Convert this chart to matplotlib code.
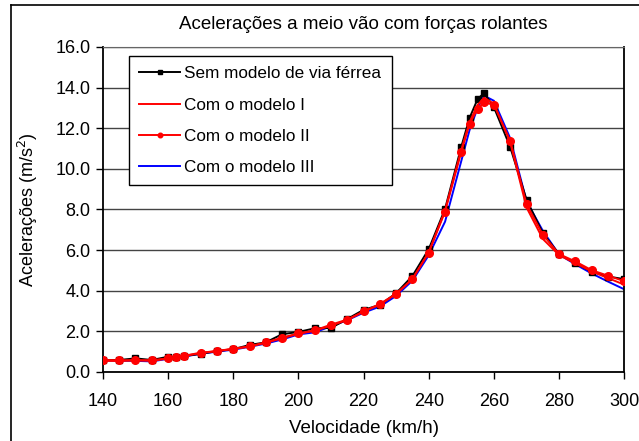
import matplotlib.pyplot as plt
from matplotlib.lines import Line2D

plt.rcParams['font.family'] = ['Liberation Sans', 'DejaVu Sans']

# velocidades (km/h)
v = [140, 145, 150, 155, 160, 162.5, 165, 170, 175, 180, 185, 190, 195, 200, 205,
     210, 215, 220, 225, 230, 235, 240, 245, 250, 252.5, 255, 257, 260, 265, 270,
     275, 280, 285, 290, 295, 300]

sem_modelo = [0.59, 0.59, 0.67, 0.59, 0.75, 0.72, 0.79, 0.89, 1.03, 1.12, 1.33, 1.46, 1.86, 1.97, 2.15,
              2.17, 2.61, 3.06, 3.30, 3.88, 4.73, 6.05, 8.03, 11.10, 12.50, 13.44, 13.73, 13.03, 11.07, 8.48,
              6.83, 5.80, 5.36, 4.94, 4.70, 4.57]

modelo_1 = [0.55, 0.54, 0.57, 0.55, 0.66, 0.72, 0.79, 0.93, 1.03, 1.13, 1.25, 1.44, 1.66, 1.88, 2.03,
            2.28, 2.56, 2.97, 3.32, 3.84, 4.58, 5.90, 7.95, 10.95, 12.30, 13.15, 13.50, 13.20, 11.30, 8.10,
            6.55, 5.75, 5.35, 4.95, 4.62, 4.30]

modelo_2 = [0.59, 0.58, 0.58, 0.58, 0.67, 0.72, 0.80, 0.95, 1.03, 1.15, 1.26, 1.46, 1.69, 1.90, 2.05,
            2.33, 2.58, 2.98, 3.35, 3.85, 4.58, 5.88, 7.90, 10.85, 12.20, 12.97, 13.27, 13.15, 11.38, 8.26,
            6.76, 5.80, 5.44, 5.01, 4.74, 4.47]

modelo_3 = [0.56, 0.55, 0.55, 0.52, 0.65, 0.70, 0.76, 0.90, 1.00, 1.10, 1.24, 1.40, 1.60, 1.85, 1.95,
            2.25, 2.55, 2.92, 3.22, 3.75, 4.50, 5.75, 7.40, 10.40, 11.90, 13.00, 13.60, 13.35, 11.50, 8.40,
            6.95, 5.78, 5.30, 4.85, 4.45, 4.07]

fig = plt.figure(figsize=(6.39, 4.41), dpi=100)
ax = fig.add_axes([0.161, 0.1565, 0.816, 0.737])

ax.plot(v, sem_modelo, color='black', lw=1.4, marker='s', ms=5, label='Sem modelo de via férrea', zorder=3)
ax.plot(v, modelo_1, color='red', lw=1.4, label='Com o modelo I', zorder=4)
ax.plot(v, modelo_2, color='red', lw=1.4, marker='o', ms=5.5, label='Com o modelo II', zorder=5)
ax.plot(v, modelo_3, color='blue', lw=1.4, label='Com o modelo III', zorder=2)

ax.set_xlim(140, 300)
ax.set_ylim(0, 16)
ax.set_xticks(range(140, 301, 20))
ax.set_yticks(range(0, 17, 2))
ax.set_yticklabels(['%.1f' % t for t in range(0, 17, 2)])
ax.tick_params(axis='both', labelsize=13, direction='out', length=5, width=1)
ax.tick_params(axis='x', pad=10)
ax.tick_params(axis='y', pad=4)
ax.yaxis.grid(True, color='#444444', lw=1)
ax.set_axisbelow(True)
for s in ['left', 'bottom', 'right']:
    ax.spines[s].set_linewidth(1.3)
ax.spines['top'].set_color('#666666')

ax.set_xlabel('Velocidade (km/h)', fontsize=13.5, labelpad=7)
ax.set_ylabel('Acelerações (m/s$^{2}$)', fontsize=13, labelpad=11)
ax.set_title('Acelerações a meio vão com forças rolantes', fontsize=13.5, pad=13)

leg = ax.legend(loc='upper left', bbox_to_anchor=(0.05, 0.972), fontsize=12.3, fancybox=False,
                framealpha=1, edgecolor='black', borderpad=0.6, labelspacing=0.95, handlelength=2.4,
                markerscale=0.6, handletextpad=0.25, borderaxespad=0)
leg.get_frame().set_linewidth(1.0)

# moldura exterior
fig.add_artist(Line2D([0.017, 0.017], [0, 0.989], color='black', lw=1.2))
fig.add_artist(Line2D([0.017, 1.0], [0.989, 0.989], color='black', lw=1.2))

fig.savefig('out.png', dpi=100)
